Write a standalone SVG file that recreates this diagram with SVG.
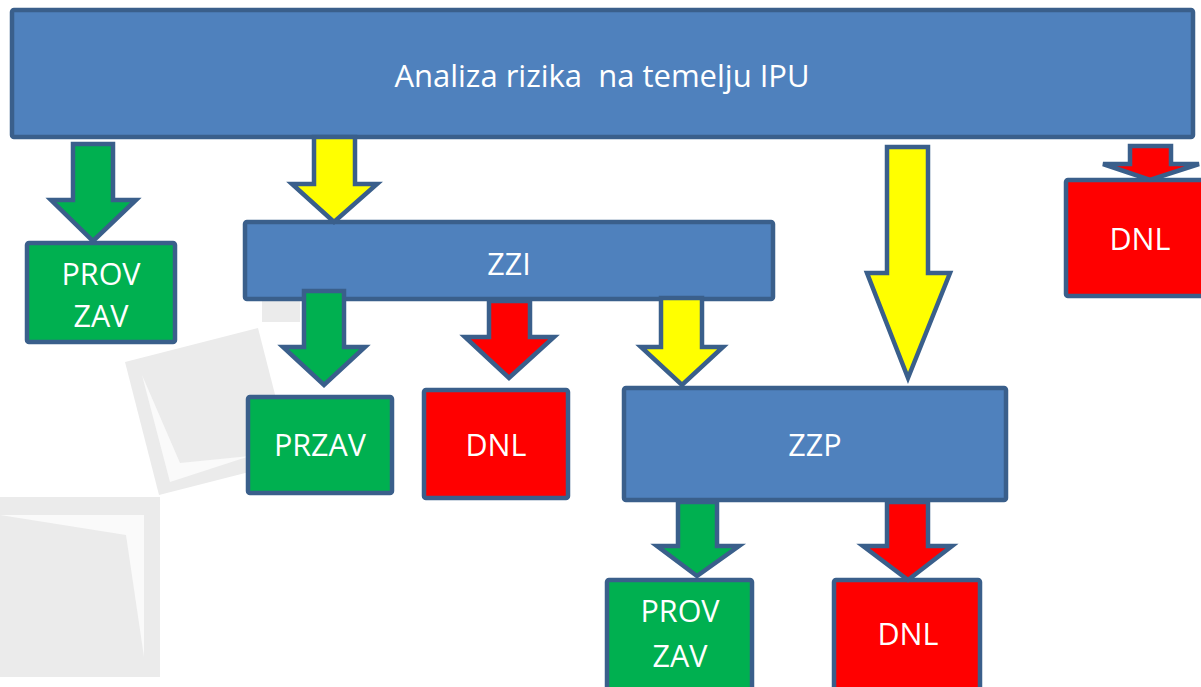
<svg xmlns="http://www.w3.org/2000/svg" width="1201" height="687" viewBox="0 0 1201 687">
<style>
.box{stroke:#3a5f8b;stroke-width:4.5;stroke-linejoin:round}
.blue{fill:#4f81bd}.green{fill:#00b050}.red{fill:#ff0000}.yellow{fill:#ffff00}
.arr{stroke:#3a5f8b;stroke-width:4.5;stroke-linejoin:miter}
text{font-family:"Open Sans","Liberation Sans",sans-serif;fill:#ffffff;text-anchor:middle;white-space:pre}
.t{font-size:30.5px}
.big{font-size:31px}
.bg{fill:#ebebeb}.bgw{fill:#fafafa}
</style>
<rect width="1201" height="687" fill="#ffffff"/>
<g id="background">
<polygon class="bg" points="262,296 300,296 300,322 262,322"/>
<polygon class="bg" points="125,362 258,328 292,461 159,495"/>
<polygon class="bgw" points="142,375 170,482 250,456 180,463"/>
<polygon class="bg" points="0,497 160,497 160,677 0,677"/>
<polygon class="bgw" points="0,515 144,515 144,657 126,535"/>
</g>
<g id="n-main"><rect class="box blue" x="12" y="10" width="1181" height="127" rx="2"/><text class="big" x="602" y="87" xml:space="preserve">Analiza rizika  na temelju IPU</text></g>
<g id="n-provzav1"><rect class="box green" x="27" y="243" width="148" height="99" rx="2"/><text class="t" x="101" y="285">PROV</text><text class="t" x="101" y="327">ZAV</text></g>
<g id="n-zzi"><rect class="box blue" x="245" y="222" width="528" height="77" rx="2"/><text class="t" x="509" y="275">ZZI</text></g>
<g id="n-przav"><rect class="box green" x="248" y="397" width="144" height="96" rx="2"/><text class="t" x="320" y="456">PRZAV</text></g>
<g id="n-dnl2"><rect class="box red" x="424" y="390" width="144" height="108" rx="2"/><text class="t" x="496" y="456">DNL</text></g>
<g id="n-zzp"><rect class="box blue" x="624" y="388" width="382" height="112" rx="2"/><text class="t" x="815" y="456">ZZP</text></g>
<g id="n-dnl1"><rect class="box red" x="1066" y="180" width="140" height="116" rx="2"/><text class="t" x="1140" y="250">DNL</text></g>
<g id="n-provzav2"><rect class="box green" x="607" y="580" width="145" height="112" rx="2"/><text class="t" x="680" y="622">PROV</text><text class="t" x="680" y="667">ZAV</text></g>
<g id="n-dnl3"><rect class="box red" x="834" y="580" width="146" height="112" rx="2"/><text class="t" x="908" y="645">DNL</text></g>
<g id="connectors">
<polygon class="arr green" points="73,144 113,144 113,200 136,200 93,241 51,200 73,200"/>
<polygon class="arr yellow" points="314,137 355,137 355,184 377,184 334,222 292,184 314,184"/>
<polygon class="arr yellow" points="887,147 928,147 928,273 950,273 908,378 867,273 887,273"/>
<polygon class="arr red" points="1130,146 1171,146 1171,164 1199,164 1150,180 1103,164 1130,164"/>
<polygon class="arr green" points="304,291 344,291 344,347 365,347 324,385 283,347 304,347"/>
<polygon class="arr red" points="489,301 530,301 530,337 554,337 509,378 465,337 489,337"/>
<polygon class="arr yellow" points="661,298 702,298 702,347 723,347 682,385 641,347 661,347"/>
<polygon class="arr green" points="678,502 717,502 717,546 739,546 697,576 657,546 678,546"/>
<polygon class="arr red" points="887,502 928,502 928,546 952,546 908,580 863,546 887,546"/>
</g>
</svg>
